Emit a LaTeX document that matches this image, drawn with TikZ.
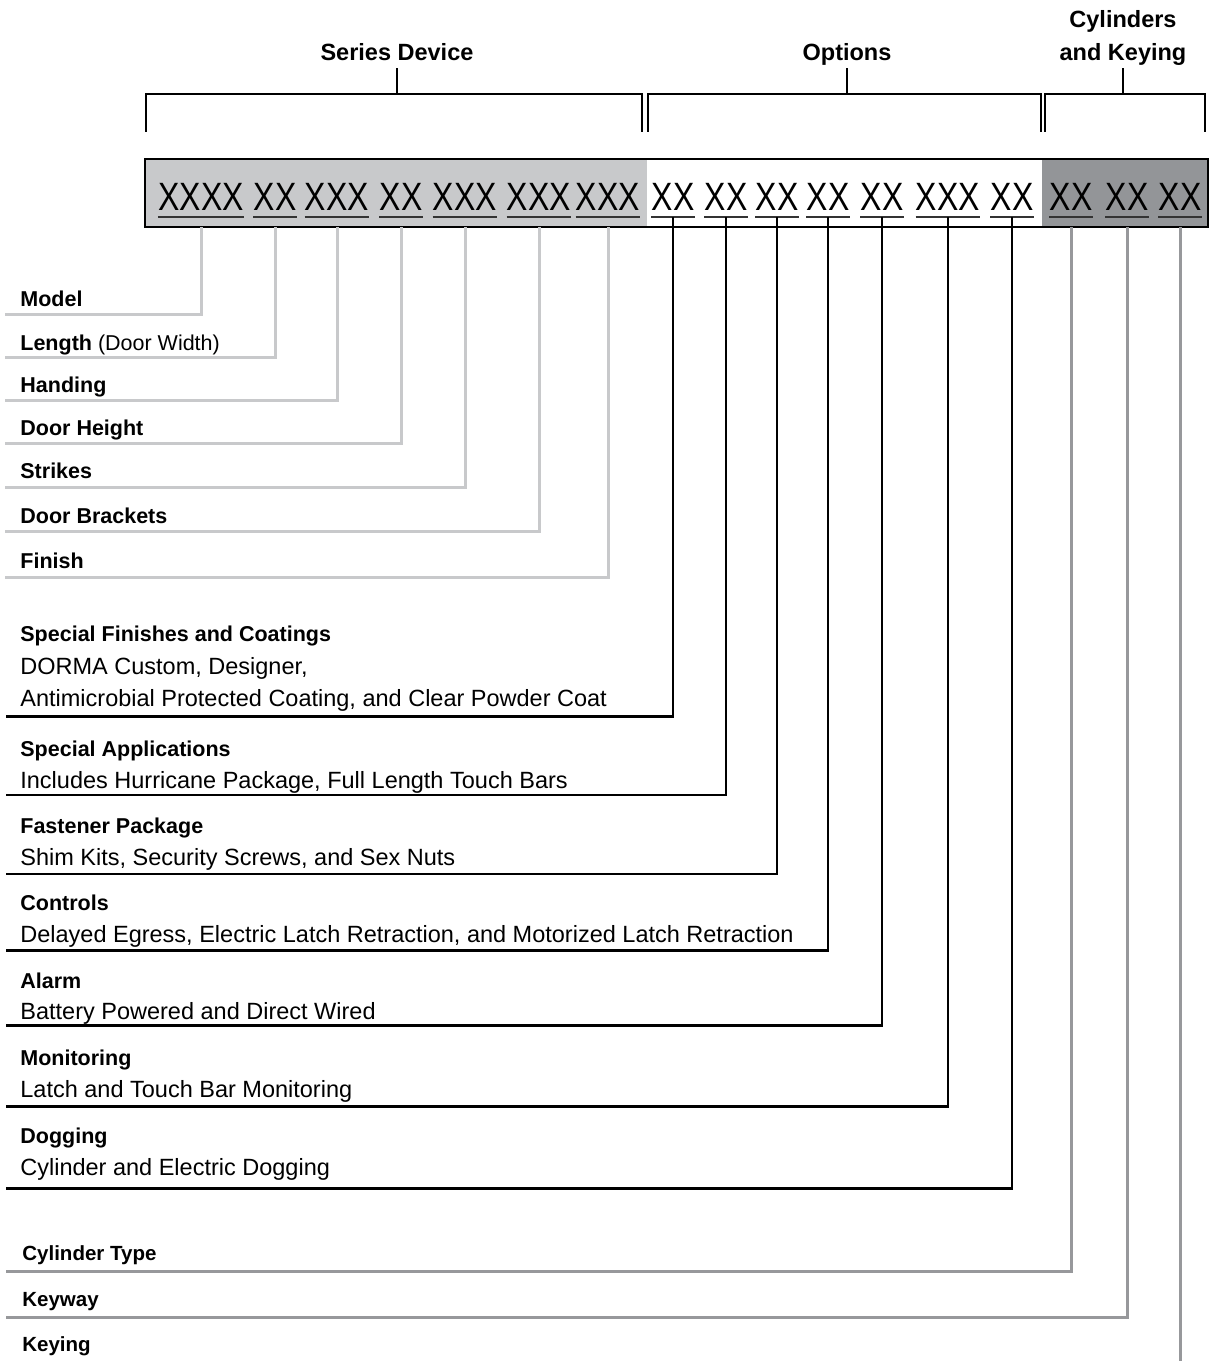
\documentclass[tikz,border=0pt]{standalone}
\usepackage{fontspec}
\setmainfont{Liberation Sans}
\newfontfamily\codefont[FakeStretch=0.81]{Liberation Sans}
\definecolor{seriesfill}{HTML}{C8C9CB}
\definecolor{cylfill}{HTML}{939598}
\definecolor{cylline}{HTML}{97989B}

\begin{document}
\begin{tikzpicture}[x=0.5pt,y=-0.5pt]
\path[use as bounding box] (0,0) rectangle (1209,1361);
\tikzstyle{head}=[font=\fontsize{11.75}{16.5}\selectfont\bfseries, align=center, anchor=base, inner sep=0pt]
\tikzstyle{code}=[font=\codefont\fontsize{19.75}{20}\selectfont, anchor=base, inner xsep=0pt, inner ysep=3.35pt, text depth=0pt,
  append after command={(\tikzlastnode.south west) edge[black!80, line width=0.65pt] (\tikzlastnode.south east)}]
\tikzstyle{brace}=[line width=1.15pt]
\tikzstyle{lab}=[font=\fontsize{10.75}{13}\selectfont\bfseries, anchor=base west, inner sep=0pt]
\tikzstyle{cyl}=[font=\fontsize{10.25}{13}\selectfont\bfseries, anchor=base west, inner sep=0pt]
\tikzstyle{desc}=[font=\fontsize{11.75}{16}\selectfont, anchor=base west, inner sep=0pt]
\tikzstyle{leadlight}=[seriesfill, line width=1.5pt]
\tikzstyle{leadblack}=[black, line width=1.35pt]
\tikzstyle{leadgray}=[cylline, line width=1.5pt]

% headings and brackets
\node[head] (hseries) at (397,60) {Series Device};
\node[head] (hopt) at (847,60) {Options};
\node[head] (hcyl) at (1123,60) {Cylinders\\and Keying};

\draw[brace] (146,131.7) |- (642,94.3) -- (642,131.7);
\draw[brace] (648,131.7) |- (1041,94.3) -- (1041,131.7);
\draw[brace] (1045,131.7) |- (1205,94.3) -- (1205,131.7);
\coordinate (tseries) at (397,94.3);
\coordinate (topt) at (847,94.3);
\coordinate (tcyl) at (1123,94.3);
\draw[brace] (tseries) -- ++(0,-26);
\draw[brace] (topt) -- ++(0,-26);
\draw[brace] (tcyl) -- ++(0,-26);

% code bar
\coordinate (barnw) at (145,159);
\coordinate (barse) at (1208,227);
\fill[seriesfill] (barnw) rectangle (647,227);
\fill[cylfill] (1042,159) rectangle (barse);
\draw[line width=1.3pt] (barnw) rectangle (barse);

\node[code] (c1) at (201,210) {XXXX};
\node[code] (c2) at (275,210) {XX};
\node[code] (c3) at (337,210) {XXX};
\node[code] (c4) at (401,210) {XX};
\node[code] (c5) at (465,210) {XXX};
\node[code] (c6) at (539,210) {XXX};
\node[code] (c7) at (608,210) {XXX};
\node[code] (c8) at (673,210) {XX};
\node[code] (c9) at (726,210) {XX};
\node[code] (c10) at (777,210) {XX};
\node[code] (c11) at (828,210) {XX};
\node[code] (c12) at (882,210) {XX};
\node[code] (c13) at (948,210) {XXX};
\node[code] (c14) at (1012,210) {XX};
\node[code] (c15) at (1071,210) {XX};
\node[code] (c16) at (1127,210) {XX};
\node[code] (c17) at (1180,210) {XX};

% series device
\node[lab] (model) at (20,306.7) {Model};
\node[lab] (length) at (20,350) {Length \mdseries(Door Width)};
\node[lab] (handing) at (20,392.7) {Handing};
\node[lab] (height) at (20,435) {Door Height};
\node[lab] (strikes) at (20,478.3) {Strikes};
\node[lab] (brackets) at (20,523.3) {Door Brackets};
\node[lab] (finish) at (20,568.3) {Finish};
\coordinate (e1) at (5,314);
\coordinate (e2) at (5,357.7);
\coordinate (e3) at (5,400.5);
\coordinate (e4) at (5,443.5);
\coordinate (e5) at (5,487);
\coordinate (e6) at (5,531.5);
\coordinate (e7) at (5,577);
\draw[leadlight] (c1 |- barse) |- (e1);
\draw[leadlight] (c2 |- barse) |- (e2);
\draw[leadlight] (c3 |- barse) |- (e3);
\draw[leadlight] (c4 |- barse) |- (e4);
\draw[leadlight] (c5 |- barse) |- (e5);
\draw[leadlight] (c6 |- barse) |- (e6);
\draw[leadlight] (c7 |- barse) |- (e7);

% options
\node[lab] (sfin) at (20,641.7) {Special Finishes and Coatings};
\node[desc] (sfind) at (20,674) {DORMA Custom, Designer,};
\node[desc] (sfine) at (20,706) {Antimicrobial Protected Coating, and Clear Powder Coat};
\node[lab] (sapp) at (20,756.7) {Special Applications};
\node[desc] (sappd) at (20,788.3) {Includes Hurricane Package, Full Length Touch Bars};
\node[lab] (fast) at (20,833.3) {Fastener Package};
\node[desc] (fastd) at (20,865) {Shim Kits, Security Screws, and Sex Nuts};
\node[lab] (ctrl) at (20,910) {Controls};
\node[desc] (ctrld) at (20,942.7) {Delayed Egress, Electric Latch Retraction, and Motorized Latch Retraction};
\node[lab] (alarm) at (20,988.3) {Alarm};
\node[desc] (alarmd) at (20,1019.3) {Battery Powered and Direct Wired};
\node[lab] (mon) at (20,1065) {Monitoring};
\node[desc] (mond) at (20,1097.3) {Latch and Touch Bar Monitoring};
\node[lab] (dog) at (20,1143.3) {Dogging};
\node[desc] (dogd) at (20,1175) {Cylinder and Electric Dogging};
\coordinate (e8) at (6,716.7);
\coordinate (e9) at (6,795);
\coordinate (e10) at (6,874);
\coordinate (e11) at (6,950.7);
\coordinate (e12) at (6,1025.7);
\coordinate (e13) at (6,1106.7);
\coordinate (e14) at (6,1188.3);
\draw[leadblack] (c8.south) |- (e8);
\draw[leadblack] (c9.south) |- (e9);
\draw[leadblack] (c10.south) |- (e10);
\draw[leadblack] (c11.south) |- (e11);
\draw[leadblack] (c12.south) |- (e12);
\draw[leadblack] (c13.south) |- (e13);
\draw[leadblack] (c14.south) |- (e14);

% cylinders and keying
\node[cyl] (ctype) at (22,1260) {Cylinder Type};
\node[cyl] (keyway) at (22,1306) {Keyway};
\node[cyl] (keying) at (22,1351.7) {Keying};
\coordinate (e15) at (6,1271.5);
\coordinate (e16) at (6,1317.3);
\coordinate (e17) at (1180,1361);
\draw[leadgray] (c15 |- barse) |- (e15);
\draw[leadgray] (c16 |- barse) |- (e16);
\draw[leadgray] (c17 |- barse) -- (e17);
\end{tikzpicture}
\end{document}
